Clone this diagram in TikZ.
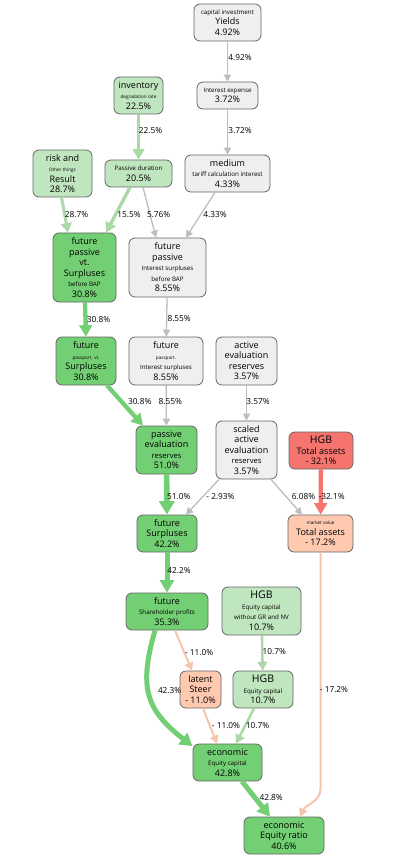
\documentclass[tikz,border=0pt]{standalone}
\usepackage{fontspec}
\setmainfont{Open Sans}
\usepackage{tikz}
\usetikzlibrary{arrows.meta, positioning}
\definecolor{boxgreen}{HTML}{73CF73}
\definecolor{boxlight}{HTML}{C0E6BF}
\definecolor{boxgray}{HTML}{EFEFEF}
\definecolor{boxred}{HTML}{F5756E}
\definecolor{boxsalmon}{HTML}{FFC9AF}
\definecolor{edgegray}{HTML}{BDBDBD}
\definecolor{edgegreen}{HTML}{73CF73}
\definecolor{edgelight}{HTML}{ABDAA8}
\definecolor{edgered}{HTML}{F5756E}
\definecolor{edgesalmon}{HTML}{F7C4AC}
\newcommand{\bg}{\fontsize{10.5}{11}\selectfont}
\newcommand{\md}{\fontsize{7.6}{9}\selectfont}
\newcommand{\sm}{\fontsize{6.2}{8}\selectfont}
\newcommand{\tn}{\fontsize{4.6}{6}\selectfont}
\tikzset{
  box/.style={draw=black!60, line width=0.8pt, rounded corners=6pt, align=center,
    inner sep=1pt, font=\fontsize{9}{10.5}\selectfont},
  grn/.style={box, fill=boxgreen},
  lgt/.style={box, fill=boxlight},
  gry/.style={box, fill=boxgray},
  rd/.style={box, fill=boxred},
  slm/.style={box, fill=boxsalmon},
  lbl/.style={font=\fontsize{8.3}{9}\selectfont, inner sep=0pt, text=black},
  flow/.style={line width=#1, -{Triangle[length=5pt 1.5, width=5pt 1.8]}},
  flow/.default=1.3pt,
}

\begin{document}
\begin{tikzpicture}[x=1pt, y=-1pt]
  % page frame
  \useasboundingbox (0,0) rectangle (418,858);

  % top rows
  \node[gry, minimum width=67pt, minimum height=37pt] (yields) at (227.5,22.5)
    {{\sm capital investment}\\Yields\\4.92\%};
  \node[gry, minimum width=61pt, minimum height=27pt] (intexp) at (227.5,95.5)
    {{\sm Interest expense}\\3.72\%};
  \node[gry, minimum width=85pt, minimum height=37pt] (medium) at (227.5,173.5)
    {medium\\{\sm tariff calculation interest}\\4.33\%};
  \node[lgt, minimum width=49pt, minimum height=37pt] (inv) at (138.5,95.5)
    {inventory\\{\tn degradation rate}\\22.5\%};
  \node[lgt, minimum width=67pt, minimum height=27pt] (pd) at (138.5,173.5)
    {{\sm Passive duration}\\20.5\%};
  \node[lgt, minimum width=59pt, minimum height=47pt] (risk) at (62.5,173.5)
    {risk and\\{\tn Other things}\\Result\\28.7\%};

  % surpluses
  \node[grn, minimum width=63pt, minimum height=69pt] (fpvt) at (84.5,267.5)
    {future\\passive\\vt.\\Surpluses\\{\sm before BAP}\\30.8\%};
  \node[gry, minimum width=77pt, minimum height=59pt] (fpi) at (167.5,267.5)
    {future\\passive\\{\sm Interest surpluses}\\{\sm before BAP}\\8.55\%};
  \node[grn, minimum width=60pt, minimum height=48pt] (fpass) at (86,361)
    {future\\{\tn passport. vt.}\\Surpluses\\30.8\%};
  \node[gry, minimum width=74pt, minimum height=48pt] (fpi2) at (166,361)
    {future\\{\tn passport.}\\{\sm Interest surpluses}\\8.55\%};
  \node[gry, minimum width=61pt, minimum height=48pt] (aer) at (246.5,361)
    {active\\evaluation\\reserves\\3.57\%};

  % reserves and assets
  \node[grn, minimum width=61pt, minimum height=48pt] (pev) at (166.5,450)
    {passive\\evaluation\\{\md reserves}\\51.0\%};
  \node[gry, minimum width=61pt, minimum height=58pt] (saer) at (246.5,450)
    {scaled\\active\\evaluation\\{\md reserves}\\3.57\%};
  \node[rd, minimum width=64pt, minimum height=37pt] (hgbta) at (321,450.5)
    {{\bg HGB}\\Total assets\\- 32.1\%};
  \node[grn, minimum width=60pt, minimum height=37pt] (fs) at (167,533.5)
    {future\\Surpluses\\42.2\%};
  \node[slm, minimum width=65pt, minimum height=37pt] (mv) at (320.5,533.5)
    {{\tn market value}\\Total assets\\- 17.2\%};

  % equity
  \node[grn, minimum width=82pt, minimum height=37pt] (fsp) at (167,611.5)
    {future\\{\sm Shareholder profits}\\35.3\%};
  \node[lgt, minimum width=79pt, minimum height=48pt] (hgbwo) at (261.5,611)
    {{\bg HGB}\\{\sm Equity capital}\\{\sm without GR and NV}\\10.7\%};
  \node[slm, minimum width=41pt, minimum height=37pt] (latent) at (200.5,689.5)
    {latent\\Steer\\- 11.0\%};
  \node[lgt, minimum width=60pt, minimum height=37pt] (hgbec) at (263,689.5)
    {{\bg HGB}\\{\sm Equity capital}\\10.7\%};
  \node[grn, minimum width=69pt, minimum height=37pt] (econ) at (227.5,762.5)
    {economic\\{\sm Equity capital}\\42.8\%};
  \node[grn, minimum width=80pt, minimum height=37pt] (eer) at (284,835.5)
    {economic\\Equity ratio\\40.6\%};

  % gray flows
  \draw[flow, edgegray] (yields) -- node[lbl, pos=0.41, xshift=12.5pt] {4.92\%} (intexp);
  \draw[flow, edgegray] (intexp) -- node[lbl, pos=0.46, xshift=12.5pt] {3.72\%} (medium);
  \draw[flow, edgegray] ([xshift=4.5pt]pd.south) -- node[lbl, pos=0.55, xshift=8.5pt] {5.76\%} ([xshift=-11.5pt]fpi.north);
  \draw[flow, edgegray] ([xshift=-12.5pt]medium.south) -- node[lbl, pos=0.48, xshift=14pt] {4.33\%} ([xshift=18.5pt]fpi.north);
  \draw[flow, edgegray] (fpi) -- node[lbl, pos=0.55, xshift=12.5pt] {8.55\%} (fpi2);
  \draw[flow, edgegray] (fpi2) -- node[lbl, pos=0.41, xshift=4pt] {8.55\%} (pev);
  \draw[flow, edgegray] (aer) -- node[lbl, pos=0.47, xshift=11.5pt] {3.57\%} (saer);
  \draw[flow, edgegray] ([xshift=-27.5pt]saer.south) -- node[lbl, pos=0.5, xshift=18pt] {- 2.93\%} ([xshift=19pt]fs.north);
  \draw[flow, edgegray] ([xshift=24.5pt]saer.south) -- node[lbl, pos=0.5, xshift=17pt] {6.08\%} ([xshift=-18.5pt]mv.north);

  % light green flows
  \draw[flow=3.6pt, edgelight] (inv) -- node[lbl, pos=0.35, xshift=12pt] {22.5\%} (pd);
  \draw[flow=3pt, edgelight] ([xshift=-1pt]risk.south) -- node[lbl, pos=0.5, xshift=11.75pt] {28.7\%} ([xshift=-16.5pt]fpvt.north);
  \draw[flow=3.4pt, edgelight] ([xshift=-8.5pt]pd.south) -- node[lbl, pos=0.61, xshift=13.6pt] {15.5\%} ([xshift=21.5pt]fpvt.north);
  \draw[flow=2.6pt, edgelight] (hgbwo) -- node[lbl, pos=0.47, xshift=12pt] {10.7\%} (hgbec);
  \draw[flow=2.6pt, edgelight] ([xshift=-9pt]hgbec.south) -- node[lbl, pos=0.5, xshift=12.5pt] {10.7\%} ([xshift=8.5pt]econ.north);

  % green flows
  \draw[flow=4.3pt, edgegreen] ([xshift=0.5pt]fpvt.south) -- node[lbl, pos=0.49, xshift=13pt] {30.8\%} (fpass.north);
  \draw[flow=4.3pt, edgegreen] ([xshift=21pt]fpass.south) -- node[lbl, pos=0.41, xshift=18pt] {30.8\%} ([xshift=-23.5pt]pev.north);
  \draw[flow=5.6pt, edgegreen] (pev) -- node[lbl, pos=0.56, xshift=12pt] {51.0\%} (fs);
  \draw[flow=5pt, edgegreen] (fs) -- node[lbl, pos=0.44, xshift=12pt] {42.2\%} (fsp);
  \draw[flow=5pt, edgegreen] ([xshift=-12pt]fsp.south) to[out=-106, in=142, looseness=1.25]
    node[lbl, pos=0.45, xshift=21pt] {42.3\%} (econ.155);
  \draw[flow=5pt, edgegreen] ([xshift=14.5pt]econ.south) -- node[lbl, pos=0.47, xshift=16pt] {42.8\%} ([xshift=-14pt]eer.north);

  % red and salmon flows
  \draw[flow=4.3pt, edgered] (hgbta) -- node[lbl, pos=0.6, xshift=11pt] {-32.1\%} (mv);
  \draw[flow=2pt, edgesalmon] ([xshift=8pt]fsp.south) -- node[lbl, pos=0.54, xshift=15pt] {- 11.0\%} ([xshift=-8.5pt]latent.north);
  \draw[flow=2pt, edgesalmon] ([xshift=2.5pt]latent.south) -- node[lbl, pos=0.5, xshift=16pt] {- 11.0\%} ([xshift=-10.5pt]econ.north);
  \coordinate (bend) at ([xshift=36.5pt, yshift=28pt]eer.north);
  \draw[flow=2pt, edgesalmon] (mv.south) -- node[lbl, pos=0.58, xshift=13.5pt] {- 17.2\%} (bend)
    to[out=-90, in=65] ([xshift=16pt]eer.north);
\end{tikzpicture}
\end{document}
